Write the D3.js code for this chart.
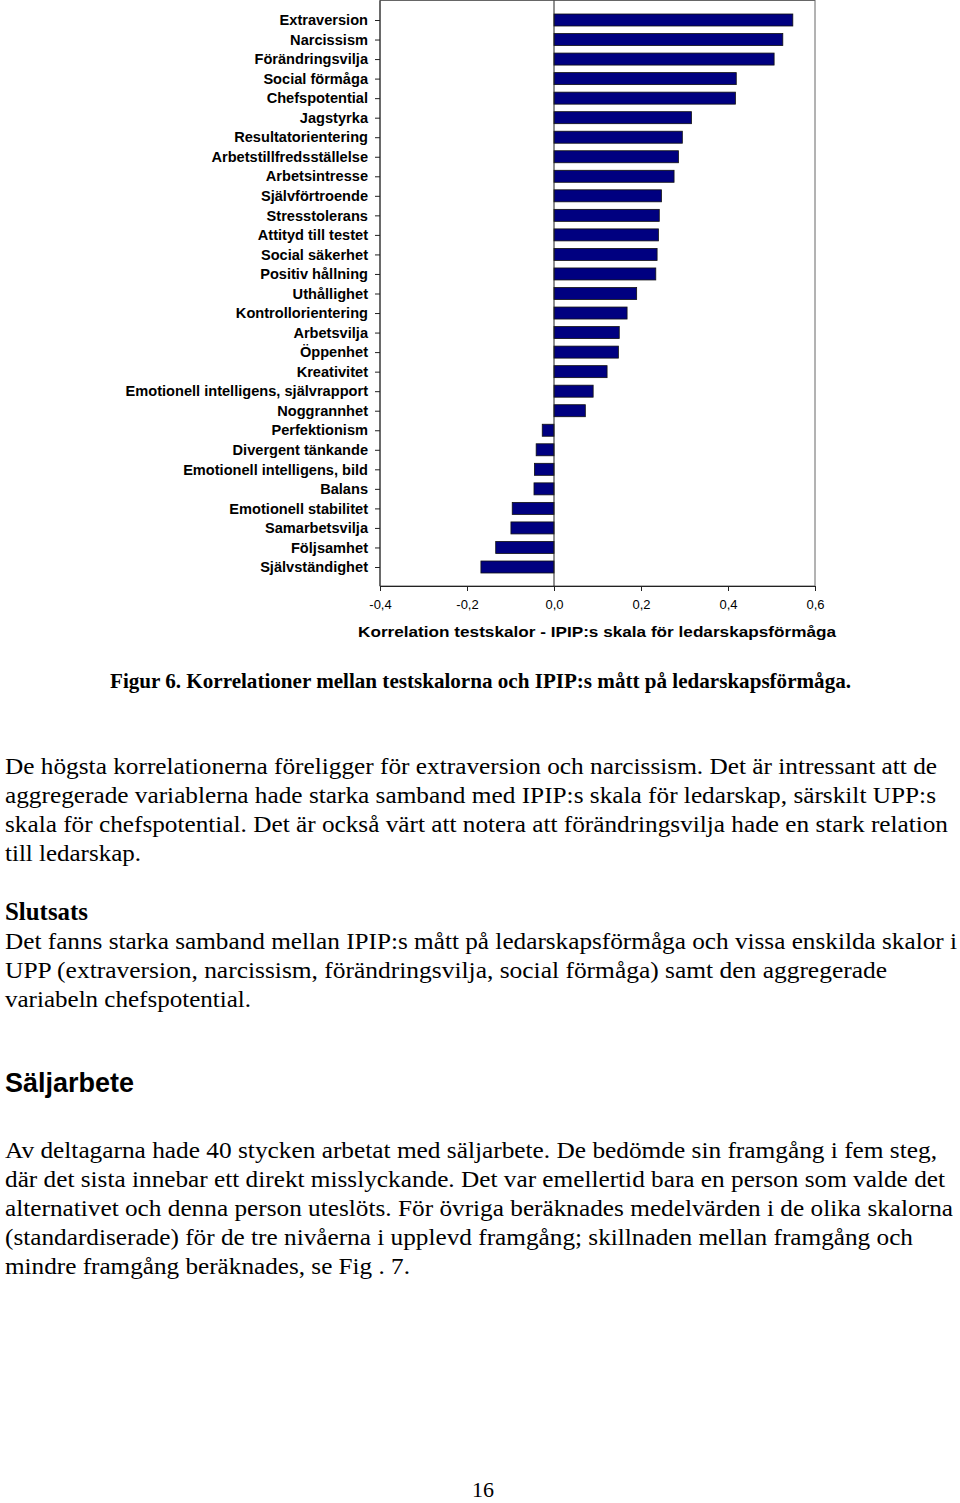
<!DOCTYPE html>
<html><head><meta charset="utf-8">
<script src="https://cdn.jsdelivr.net/npm/d3@7"></script>
<style>html,body{margin:0;padding:0;background:#fff;}svg{display:block;}</style>
</head><body>
<script>
const categories = ["Extraversion","Narcissism","Förändringsvilja","Social förmåga","Chefspotential","Jagstyrka","Resultatorientering","Arbetstillfredsställelse","Arbetsintresse","Självförtroende","Stresstolerans","Attityd till testet","Social säkerhet","Positiv hållning","Uthållighet","Kontrollorientering","Arbetsvilja","Öppenhet","Kreativitet","Emotionell intelligens, självrapport","Noggrannhet","Perfektionism","Divergent tänkande","Emotionell intelligens, bild","Balans","Emotionell stabilitet","Samarbetsvilja","Följsamhet","Självständighet"];
const correlations = [0.549,0.526,0.506,0.419,0.417,0.316,0.295,0.286,0.276,0.247,0.242,0.240,0.237,0.234,0.190,0.168,0.150,0.148,0.122,0.090,0.072,-0.027,-0.041,-0.045,-0.046,-0.096,-0.099,-0.134,-0.168];
const xTicks = [-0.4,-0.2,0,0.2,0.4,0.6];
const xTitle = "Korrelation testskalor - IPIP:s skala för ledarskapsförmåga";
const caption = "Figur 6. Korrelationer mellan testskalorna och IPIP:s mått på ledarskapsförmåga.";
const para1 = ["De högsta korrelationerna föreligger för extraversion och narcissism. Det är intressant att de","aggregerade variablerna hade starka samband med IPIP:s skala för ledarskap, särskilt UPP:s","skala för chefspotential. Det är också värt att notera att förändringsvilja hade en stark relation","till ledarskap."];
const para1W = [932,931,943,136];
const heading2 = "Slutsats";
const para2 = ["Det fanns starka samband mellan IPIP:s mått på ledarskapsförmåga och vissa enskilda skalor i","UPP (extraversion, narcissism, förändringsvilja, social förmåga)  samt den aggregerade","variabeln chefspotential."];
const para2W = [952,882,246];
const heading3 = "Säljarbete";
const para3 = ["Av deltagarna hade 40 stycken arbetat med säljarbete. De bedömde sin framgång i fem steg,","där det sista innebar ett direkt misslyckande. Det var emellertid bara en person som valde det","alternativet och denna person uteslöts. För övriga beräknades medelvärden i de olika skalorna","(standardiserade) för de tre nivåerna i upplevd framgång; skillnaden mellan framgång och","mindre framgång beräknades, se Fig . 7."];
const para3W = [932,940,948,908,405];
const pageNo = "16";

const svg = d3.select("body").append("svg").attr("width",960).attr("height",1503);

const x = d3.scaleLinear().domain([-0.4,0.6]).range([380,815]);
const y = d3.scalePoint().domain(categories).range([20,567]);
const plotTop = 0.5, plotBottom = 586;

svg.append("rect").attr("x",380).attr("y",plotTop).attr("width",435).attr("height",plotBottom-plotTop)
  .attr("fill","none").attr("stroke","#666").attr("stroke-width",1);

svg.append("g").selectAll("rect").data(categories).join("rect")
  .attr("x",(d,i)=>x(Math.min(0,correlations[i])))
  .attr("y",d=>y(d)-6)
  .attr("width",(d,i)=>Math.abs(x(correlations[i])-x(0)))
  .attr("height",12)
  .attr("fill","#000080").attr("stroke","#111").attr("stroke-width",0.8);

svg.append("line").attr("x1",x(0)).attr("x2",x(0)).attr("y1",plotTop).attr("y2",plotBottom)
  .attr("stroke","#222").attr("stroke-width",1);

const sans = "Arial, 'Liberation Sans', sans-serif";
const yAxis = svg.append("g").attr("transform","translate(380,0)")
  .call(d3.axisLeft(y).tickSize(5).tickPadding(7));
yAxis.select(".domain").attr("stroke","#222").attr("d","M0,0.5V586");
yAxis.selectAll(".tick line").attr("stroke","#222");
yAxis.selectAll("text").attr("font-family",sans)
  .attr("font-weight","bold").attr("font-size","14.6px").attr("fill","#000");

const xAxis = svg.append("g").attr("transform",`translate(0,${plotBottom})`)
  .call(d3.axisBottom(x).tickValues(xTicks).tickSize(5).tickPadding(9)
    .tickFormat(d=>d3.format(".1f")(d).replace(".",",").replace("−","-")));
xAxis.select(".domain").attr("stroke","#222").attr("d","M380,0.5H815");
xAxis.selectAll(".tick line").attr("stroke","#222");
xAxis.selectAll("text").attr("font-family",sans)
  .attr("font-size","13px").attr("fill","#000");

svg.append("text").attr("x",597).attr("y",637).attr("text-anchor","middle")
  .attr("font-family",sans).attr("font-weight","bold")
  .attr("font-size","15.5px").attr("textLength",478).attr("lengthAdjust","spacingAndGlyphs").text(xTitle);

const serif = "'Times New Roman', 'Liberation Serif', serif";
svg.append("text").attr("x",110).attr("y",688).attr("font-family",serif).attr("font-weight","bold")
  .attr("font-size","22px").attr("textLength",741).attr("lengthAdjust","spacingAndGlyphs").text(caption);

function para(lines, widths, y0){
  lines.forEach((t,i)=>{
    svg.append("text").attr("x",5).attr("y",y0+i*29).attr("font-family",serif)
      .attr("font-size","24px").attr("textLength",widths[i]).attr("lengthAdjust","spacingAndGlyphs").text(t);
  });
}
para(para1, para1W, 774);
svg.append("text").attr("x",5).attr("y",920).attr("font-family",serif).attr("font-weight","bold")
  .attr("font-size","25px").attr("textLength",83).attr("lengthAdjust","spacingAndGlyphs").text(heading2);
para(para2, para2W, 949);
svg.append("text").attr("x",5).attr("y",1092).attr("font-family",sans).attr("font-weight","bold")
  .attr("font-size","27px").attr("textLength",129).attr("lengthAdjust","spacingAndGlyphs").text(heading3);
para(para3, para3W, 1158);
svg.append("text").attr("x",483).attr("y",1497).attr("text-anchor","middle").attr("font-family",serif)
  .attr("font-size","22px").text(pageNo);
</script>
</body></html>
